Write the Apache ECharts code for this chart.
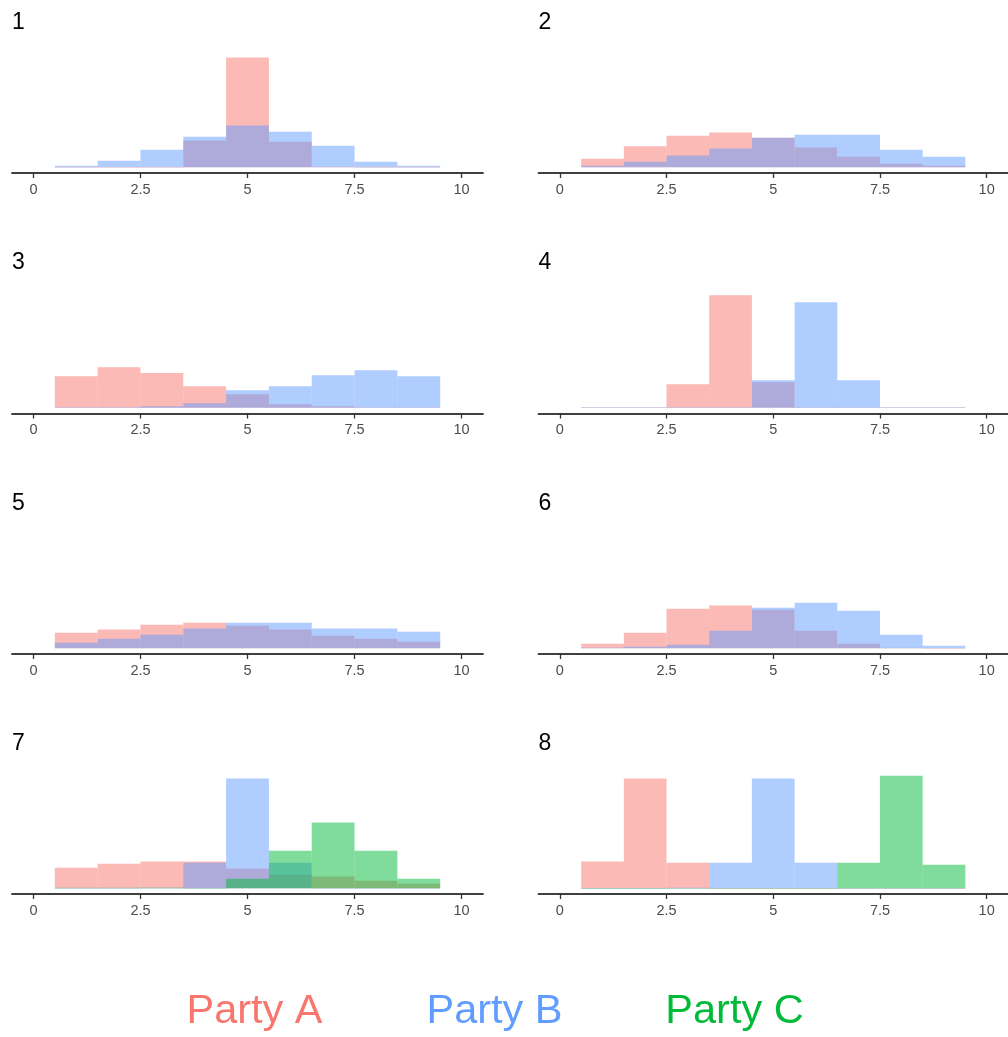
<!DOCTYPE html>
<html>
<head>
<meta charset="utf-8">
<script src="https://cdn.jsdelivr.net/npm/echarts@6/dist/echarts.min.js"></script>
<style>
html,body{margin:0;padding:0;background:#fff;}
#chart{width:1008px;height:1037px;}
</style>
</head>
<body>
<div id="chart"></div>
<script>
// Bin centres (histogram bins of width 1)
const bins = [1, 2, 3, 4, 5, 6, 7, 8, 9];
const panelTitles = ['1', '2', '3', '4', '5', '6', '7', '8'];
const tickValues = [0, 2.5, 5, 7.5, 10];
const partyNames = ['Party A', 'Party B', 'Party C'];
const partyColors = ['#F8766D', '#619CFF', '#00BA38'];

// Share of each party's voters per bin, one row per panel
const partyA = [
  [0.000, 0.000, 0.002, 0.164, 0.673, 0.157, 0.004, 0.000, 0.000],
  [0.053, 0.129, 0.194, 0.213, 0.182, 0.121, 0.065, 0.022, 0.010],
  [0.194, 0.249, 0.213, 0.133, 0.084, 0.022, 0.010, 0.004, 0.002],
  [0.002, 0.002, 0.145, 0.691, 0.157, 0.002, 0.002, 0.002, 0.002],
  [0.096, 0.115, 0.145, 0.157, 0.139, 0.115, 0.078, 0.059, 0.041],
  [0.029, 0.096, 0.243, 0.262, 0.237, 0.108, 0.029, 0.004, 0.002],
  [0.127, 0.151, 0.164, 0.164, 0.121, 0.084, 0.072, 0.047, 0.029],
  [0.164, 0.673, 0.157, 0.002, 0.002, 0.002, 0.002, 0.002, 0.002]
];
const partyB = [
  [0.010, 0.041, 0.108, 0.188, 0.256, 0.219, 0.133, 0.035, 0.010],
  [0.010, 0.035, 0.072, 0.115, 0.182, 0.200, 0.200, 0.108, 0.065],
  [0.004, 0.004, 0.010, 0.029, 0.108, 0.133, 0.200, 0.231, 0.194],
  [0.002, 0.002, 0.002, 0.002, 0.170, 0.648, 0.170, 0.002, 0.002],
  [0.035, 0.059, 0.084, 0.121, 0.157, 0.157, 0.121, 0.121, 0.102],
  [0.004, 0.010, 0.022, 0.108, 0.249, 0.280, 0.231, 0.084, 0.016],
  [0.002, 0.002, 0.004, 0.157, 0.673, 0.157, 0.000, 0.000, 0.000],
  [0.002, 0.002, 0.004, 0.157, 0.673, 0.157, 0.002, 0.002, 0.002]
];
const partyC = [
  null, null, null, null, null, null,
  [0.004, 0.004, 0.004, 0.002, 0.059, 0.231, 0.403, 0.231, 0.059],
  [0.002, 0.002, 0.002, 0.002, 0.002, 0.002, 0.157, 0.691, 0.145]
];

const parties = [partyA, partyB, partyC];
let yMax = 0;
parties.forEach(p => p.forEach(row => row && row.forEach(v => { if (v > yMax) yMax = v; })));

function hexToRgba(hex, a) {
  const n = parseInt(hex.slice(1), 16);
  return 'rgba(' + ((n >> 16) & 255) + ',' + ((n >> 8) & 255) + ',' + (n & 255) + ',' + a + ')';
}

const FONT = "'Liberation Sans', Arial, sans-serif";
const axisLineY = [173, 413.5, 654, 894];
const plotH = 124;
const colLeft = [12, 538.5];
const plotW = 471;

const grids = [], xAxes = [], yAxes = [], series = [], titles = [];
panelTitles.forEach((t, i) => {
  const row = Math.floor(i / 2), col = i % 2;
  grids.push({ left: colLeft[col], top: axisLineY[row] - plotH, width: plotW, height: plotH, containLabel: false });
  xAxes.push({
    gridIndex: i, type: 'value', min: -0.5, max: 10.5,
    splitLine: { show: false },
    axisLine: { show: true, onZero: false, lineStyle: { color: '#000', width: 1.7 } },
    axisTick: { show: true, length: 5, customValues: tickValues, lineStyle: { color: '#333', width: 1.3 } },
    axisLabel: { show: true, customValues: tickValues, margin: 9, color: '#4D4D4D', fontSize: 14.5, fontFamily: FONT,
      formatter: v => String(v) }
  });
  yAxes.push({ gridIndex: i, type: 'value', min: -0.05 * yMax, max: 1.05 * yMax, show: false, splitLine: { show: false } });
  titles.push({ text: t, left: colLeft[col], top: axisLineY[row] - 162, padding: 0,
    textStyle: { fontSize: 23, fontWeight: 'normal', color: '#000', fontFamily: FONT } });
  parties.forEach((p, k) => {
    if (!p[i]) return;
    series.push({
      type: 'custom', name: partyNames[k], xAxisIndex: i, yAxisIndex: i,
      data: bins.map((b, j) => [b, p[i][j]]),
      renderItem: function (params, api) {
        const x = api.value(0), v = api.value(1);
        const p0 = api.coord([x - 0.5, 0]);
        const p1 = api.coord([x + 0.5, v]);
        return {
          type: 'rect',
          shape: { x: p0[0], y: p1[1], width: p1[0] - p0[0], height: Math.max(p0[1] - p1[1], 0.4) },
          style: { fill: hexToRgba(partyColors[k], 0.5) }
        };
      },
      silent: true, animation: false
    });
  });
});

const legendCentres = [254.5, 494.5, 734.5];
const graphic = partyNames.map((n, k) => ({
  type: 'text', x: legendCentres[k], y: 1012,
  style: { text: n, fill: partyColors[k], fontSize: 41.5, fontFamily: FONT, align: 'center', verticalAlign: 'middle' }
}));

const chart = echarts.init(document.getElementById('chart'), null, { renderer: 'canvas' });
chart.setOption({
  backgroundColor: '#fff',
  animation: false,
  title: titles,
  grid: grids,
  xAxis: xAxes,
  yAxis: yAxes,
  series: series,
  graphic: graphic
});
</script>
</body>
</html>
